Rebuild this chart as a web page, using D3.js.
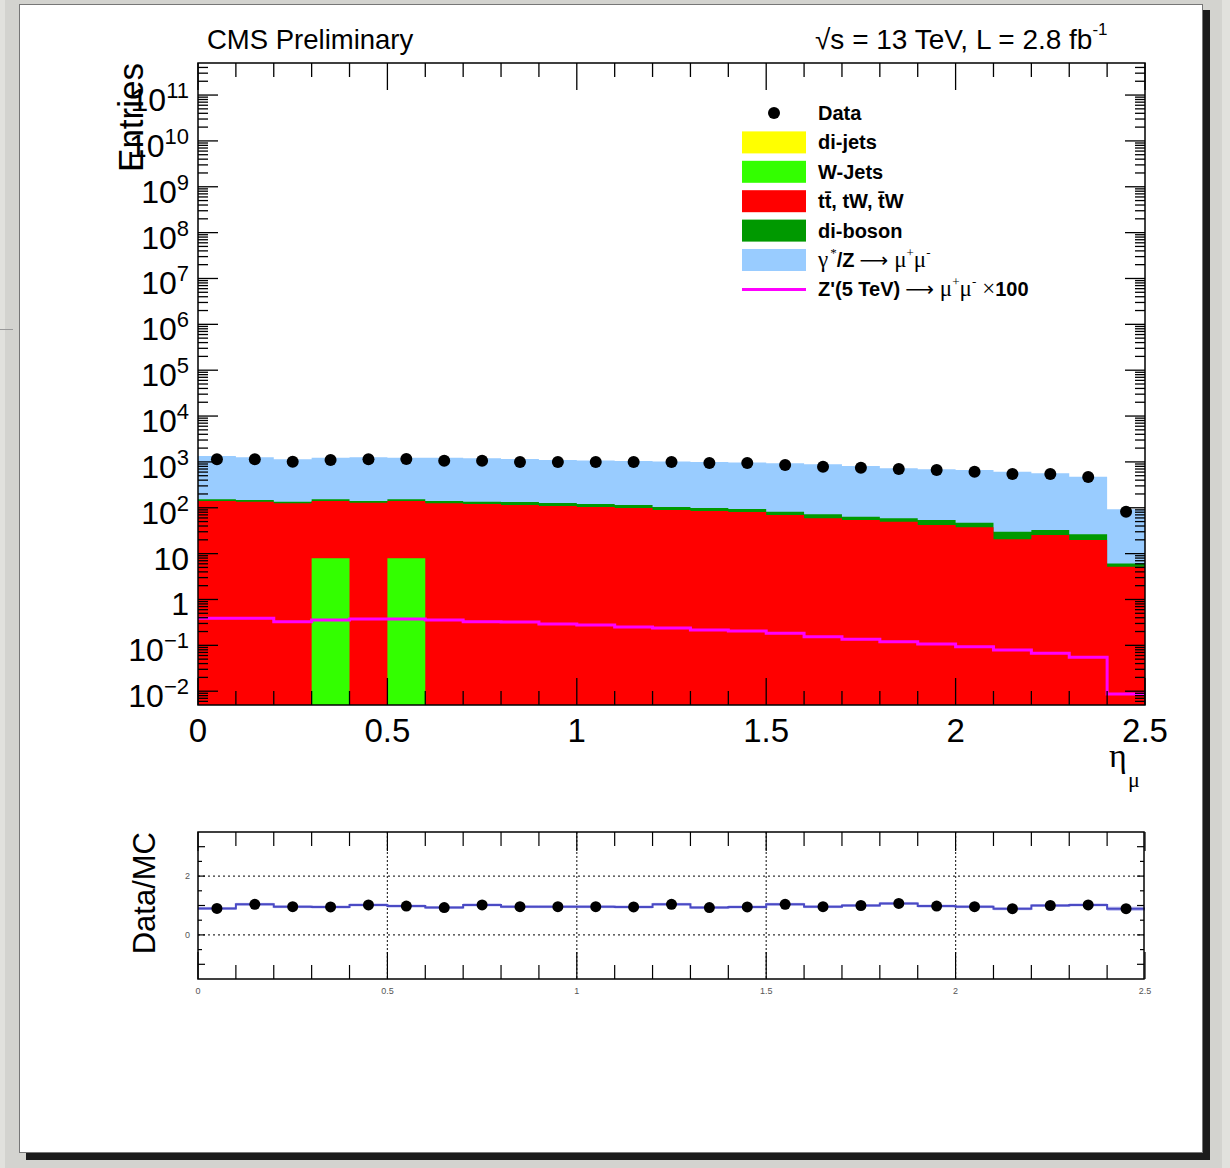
<!DOCTYPE html>
<html>
<head>
<meta charset="utf-8">
<script src="https://cdn.jsdelivr.net/npm/d3@7"></script>
<style>
  body { margin: 0; background: #d3d3cf; }
  svg { display: block; }
  text { font-family: "Liberation Sans", Arial, Helvetica, sans-serif; }
</style>
</head>
<body>
<svg id="canvas" width="1230" height="1168"></svg>
<script>

// ---- data ----
const binLow = [0.0, 0.1, 0.2, 0.3, 0.4, 0.5, 0.6, 0.7, 0.8, 0.9, 1.0, 1.1, 1.2,
                1.3, 1.4, 1.5, 1.6, 1.7, 1.8, 1.9, 2.0, 2.1, 2.2, 2.3, 2.4];
const binWidth = 0.1;

const dataCounts = [1139, 1139, 1010, 1100, 1139, 1157, 1062, 1062, 995, 995, 995, 995, 995,
                    946, 946, 856, 786, 747, 700, 666, 611, 545, 545, 469, 82];

const diJets  = [0, 0, 0, 0, 0, 0, 0, 0, 0, 0, 0, 0, 0, 0, 0, 0, 0, 0, 0, 0, 0, 0, 0, 0, 0];
const wJets   = [0, 0, 0, 7.9, 0, 7.9, 0, 0, 0, 0, 0, 0, 0, 0, 0, 0, 0, 0, 0, 0, 0, 0, 0, 0, 0];
const ttbar   = [140.4, 135.6, 125.1, 132.5, 128.9, 132.5, 125.1, 120.8, 114.8, 109.2, 103.9, 98.8, 89.4,
                 85.0, 80.8, 69.5, 58.9, 54.1, 49.7, 42.1, 37.5, 20.5, 25.5, 19.8, 5.2];
const diBoson = [12.5, 12.0, 10.5, 12.5, 11.5, 12.5, 15.3, 14.8, 18.7, 17.8, 16.9, 16.0, 14.5,
                 13.8, 13.1, 12.5, 13.1, 9.7, 9.2, 12.0, 9.7, 9.6, 7.2, 6.6, 0.9];
const dyMuMu  = [1192, 1112, 1003, 1082, 1120, 1082, 1095, 1062, 1024, 973, 951, 931, 916,
                 896, 876, 850, 814, 750, 666, 636, 619, 581, 531, 450, 87];
const zPrimeX100 = [0.389, 0.389, 0.328, 0.357, 0.375, 0.375, 0.357, 0.328, 0.323, 0.292, 0.278, 0.251, 0.239,
                    0.216, 0.205, 0.183, 0.154, 0.135, 0.120, 0.107, 0.0934, 0.0791, 0.0670, 0.0548, 0.00869];

const ratio    = [0.90, 1.04, 0.96, 0.95, 1.02, 0.98, 0.93, 1.02, 0.96, 0.96, 0.96, 0.95, 1.04,
                  0.93, 0.95, 1.04, 0.96, 1.00, 1.07, 0.98, 0.96, 0.89, 1.00, 1.02, 0.89];
const ratioErr = [0.05, 0.05, 0.05, 0.05, 0.05, 0.05, 0.05, 0.05, 0.05, 0.05, 0.05, 0.05, 0.05,
                  0.05, 0.05, 0.05, 0.05, 0.05, 0.05, 0.05, 0.05, 0.05, 0.05, 0.05, 0.07];

const xTickLabels = ['0', '0.5', '1', '1.5', '2', '2.5'];
const xMajor = [0, 0.5, 1, 1.5, 2, 2.5];
const yDecades = [-2, -1, 0, 1, 2, 3, 4, 5, 6, 7, 8, 9, 10, 11];
const ratioYLabels = [0, 2];

const stackNames  = ['di-jets', 'W-Jets', 'ttbar', 'di-boson', 'DY'];
const stackColors = ['#ffff00', '#33ff00', '#ff0000', '#009900', '#99ccff'];

// legend labels (rich text pieces)
const legendLabels = [
    [{ t: 'Data' }],
    [{ t: 'di-jets' }],
    [{ t: 'W-Jets' }],
    [{ t: 't' }, { t: 't\u0304' }, { t: ', tW, ' }, { t: 't\u0304' }, { t: 'W' }],
    [{ t: 'di-boson' }],
    [{ t: '\u03b3', serif: true }, { t: '*', sup: true, dx: 2 }, { t: '/Z' }, { t: '\u27f6', arrow: true },
     { t: '\u03bc', serif: true, dx: 6 }, { t: '+', sup: true }, { t: '\u03bc', serif: true }, { t: '-', sup: true }],
    [{ t: "Z'(5 TeV)" }, { t: '\u27f6', arrow: true }, { t: '\u03bc', serif: true, dx: 6 }, { t: '+', sup: true },
     { t: '\u03bc', serif: true }, { t: '-', sup: true }, { t: '\u00d7', serif: true, dx: 6 }, { t: '100' }]
];

// ---- canvas ----
const svg = d3.select('#canvas');

svg.append('rect').attr('width', 1230).attr('height', 1168).attr('fill', '#d3d3cf');
svg.append('rect').attr('x', 0).attr('width', 5).attr('height', 1168).attr('fill', '#e1e1dd');
svg.append('rect').attr('x', 1222).attr('width', 8).attr('height', 1168).attr('fill', '#e1e1dd');
svg.append('line').attr('x1', 0).attr('x2', 13).attr('y1', 329.5).attr('y2', 329.5).attr('stroke', '#999');
svg.append('rect').attr('x', 26).attr('y', 10).attr('width', 1184).attr('height', 1150).attr('fill', '#1c1c1c');
svg.append('rect').attr('x', 19.5).attr('y', 4.5).attr('width', 1183).attr('height', 1148)
    .attr('fill', '#fff').attr('stroke', '#777');

// ---- main pad ----
const x = d3.scaleLinear().domain([0, 2.5]).range([198, 1145]);
const y = d3.scaleLog().domain([0.005, 5e11]).range([705, 63]).clamp(true);
const yMin = 0.005;

function stepData(vals) {
    let pts = binLow.map((b, i) => [b, vals[i]]);
    pts.push([binLow[binLow.length - 1] + binWidth, vals[vals.length - 1]]);
    return pts;
}

let layers = [diJets, wJets, ttbar, diBoson, dyMuMu];
let cumul = [];
layers.forEach((l, k) => {
    cumul.push(l.map((v, i) => v + (k > 0 ? cumul[k - 1][i] : 0)));
});

const area = d3.area()
    .curve(d3.curveStepAfter)
    .x(d => x(d[0]))
    .y0(705)
    .y1(d => y(Math.max(d[1], yMin)));

const stackG = svg.append('g').attr('class', 'stack');
for (let k = layers.length - 1; k >= 0; k--) {
    stackG.append('path')
        .datum(stepData(cumul[k]))
        .attr('d', area)
        .attr('fill', stackColors[k]);
}

// Z' signal
const line = d3.line()
    .curve(d3.curveStepAfter)
    .x(d => x(d[0]))
    .y(d => y(Math.max(d[1], yMin)));

svg.append('path')
    .datum(stepData(zPrimeX100))
    .attr('d', line)
    .attr('fill', 'none')
    .attr('stroke', '#ff00ff')
    .attr('stroke-width', 3);

// data points
svg.append('g').selectAll('circle')
    .data(dataCounts)
    .join('circle')
    .attr('cx', (d, i) => x(binLow[i] + binWidth / 2))
    .attr('cy', d => y(d))
    .attr('r', 6)
    .attr('fill', '#000');

// ticks
const ticksG = svg.append('g').attr('stroke', '#000').attr('stroke-width', 1.3);

let yMinor = [];
for (let d = -3; d <= 11; d++) {
    for (let k = 2; k <= 9; k++) {
        let v = k * Math.pow(10, d);
        if (v > 0.005 && v < 5e11) yMinor.push(v);
    }
}
let yMajorVals = yDecades.map(d => Math.pow(10, d));

function yTicks(vals, len) {
    ticksG.append('g').selectAll('line').data(vals).join('line')
        .attr('x1', 198).attr('x2', 198 + len)
        .attr('y1', d => y(d)).attr('y2', d => y(d));
    ticksG.append('g').selectAll('line').data(vals).join('line')
        .attr('x1', 1145).attr('x2', 1145 - len)
        .attr('y1', d => y(d)).attr('y2', d => y(d));
}
yTicks(yMajorVals, 20);
yTicks(yMinor, 10);

let xMinor = binLow.filter(b => b > 0 && Math.abs(b * 2 - Math.round(b * 2)) > 1e-6);

function xTicks(vals, len, y0, y1) {
    ticksG.append('g').selectAll('line').data(vals).join('line')
        .attr('x1', d => x(d)).attr('x2', d => x(d))
        .attr('y1', y0).attr('y2', y0 + len);
    ticksG.append('g').selectAll('line').data(vals).join('line')
        .attr('x1', d => x(d)).attr('x2', d => x(d))
        .attr('y1', y1).attr('y2', y1 - len);
}
xTicks(xMajor, 27, 63, 705);
xTicks(xMinor, 14, 63, 705);

svg.append('rect')
    .attr('x', 198).attr('y', 63).attr('width', 947).attr('height', 642)
    .attr('fill', 'none').attr('stroke', '#000').attr('stroke-width', 1.5);

// y labels
const yLab = svg.append('g').attr('font-size', 32).attr('text-anchor', 'end').attr('fill', '#000');
yDecades.forEach(d => {
    let t = yLab.append('text').attr('x', 189).attr('y', y(Math.pow(10, d)) + 16);
    if (d === 0) t.text('1');
    else if (d === 1) t.text('10');
    else {
        t.append('tspan').text('10');
        t.append('tspan').attr('font-size', 22).attr('dy', -13)
            .text(d < 0 ? '\u2212' + (-d) : String(d));
    }
});

// x labels
svg.append('g').selectAll('text')
    .data(xMajor)
    .join('text')
    .attr('x', d => x(d))
    .attr('y', 742)
    .attr('text-anchor', 'middle')
    .attr('font-size', 33)
    .text((d, i) => xTickLabels[i]);

// axis titles
svg.append('text')
    .attr('transform', 'translate(143,63) rotate(-90)')
    .attr('text-anchor', 'end')
    .attr('font-size', 35)
    .text('Entries');

svg.append('text')
    .attr('x', 1109).attr('y', 767)
    .attr('font-size', 34)
    .style('font-family', '"Liberation Serif", serif')
    .text('\u03b7');
svg.append('text')
    .attr('x', 1128).attr('y', 787)
    .attr('font-size', 22)
    .style('font-family', '"Liberation Serif", serif')
    .text('\u03bc');

// header texts
svg.append('text')
    .attr('x', 207).attr('y', 48.5)
    .attr('font-size', 27.5)
    .text('CMS Preliminary');

let hdr = svg.append('text').attr('x', 815).attr('y', 48.5).attr('font-size', 28);
hdr.append('tspan').text('\u221as = 13 TeV, L = 2.8 fb');
hdr.append('tspan').attr('font-size', 17).attr('dy', -14).text('-1');

// ---- legend ----
const leg = svg.append('g');
const legY0 = 113, legStep = 29.4;

function richText(sel, parts) {
    let shift = 0;
    parts.forEach(p => {
        let target = p.sup ? -10 : 0;
        let ts = sel.append('tspan').attr('dy', target - shift).text(p.t);
        shift = target;
        if (p.dx) ts.attr('dx', p.dx);
        if (p.serif) ts.style('font-family', '"Liberation Serif", serif')
            .attr('font-weight', 'normal').attr('font-size', 23);
        if (p.arrow) ts.style('font-family', '"DejaVu Sans", sans-serif')
            .attr('font-weight', 'normal').attr('font-size', 20).attr('dx', 5);
        if (p.sup) ts.attr('font-size', 13).style('font-family', '"Liberation Serif", serif')
            .attr('font-weight', 'normal');
    });
}

legendLabels.forEach((parts, i) => {
    let cy = legY0 + i * legStep;
    if (i === 0) {
        leg.append('circle').attr('cx', 774).attr('cy', cy).attr('r', 6).attr('fill', '#000');
    } else if (i === legendLabels.length - 1) {
        leg.append('line').attr('x1', 742).attr('x2', 806).attr('y1', cy).attr('y2', cy)
            .attr('stroke', '#ff00ff').attr('stroke-width', 3);
    } else {
        leg.append('rect').attr('x', 742).attr('y', cy - 11).attr('width', 64).attr('height', 22)
            .attr('fill', stackColors[i - 1]);
    }
    let t = leg.append('text')
        .attr('x', 818).attr('y', cy + 7)
        .attr('font-size', 20)
        .attr('font-weight', 'bold');
    richText(t, parts);
});

// ---- ratio pad ----
const yr = d3.scaleLinear().domain([-1.5, 3.5]).range([979, 832]);

const rg = svg.append('g');

// grid
rg.append('g').selectAll('line').data([0, 2]).join('line')
    .attr('x1', 198).attr('x2', 1144)
    .attr('y1', d => yr(d)).attr('y2', d => yr(d))
    .attr('stroke', '#333').attr('stroke-width', 1.2).attr('stroke-dasharray', '2,3');
rg.append('g').selectAll('line').data([0.5, 1, 1.5, 2]).join('line')
    .attr('x1', d => x(d)).attr('x2', d => x(d))
    .attr('y1', 832).attr('y2', 979)
    .attr('stroke', '#333').attr('stroke-width', 1.2).attr('stroke-dasharray', '2,2');

// band + step
rg.append('g').selectAll('rect').data(ratio).join('rect')
    .attr('x', (d, i) => x(binLow[i]))
    .attr('width', x(binWidth) - x(0))
    .attr('y', (d, i) => yr(d + ratioErr[i]))
    .attr('height', (d, i) => yr(d - ratioErr[i]) - yr(d + ratioErr[i]))
    .attr('fill', '#bcbcf0');

const rline = d3.line()
    .curve(d3.curveStepAfter)
    .x(d => x(d[0]))
    .y(d => yr(d[1]));

rg.append('path')
    .datum(stepData(ratio))
    .attr('d', rline)
    .attr('fill', 'none')
    .attr('stroke', '#4a4ac4')
    .attr('stroke-width', 2);

rg.append('g').selectAll('circle').data(ratio).join('circle')
    .attr('cx', (d, i) => x(binLow[i] + binWidth / 2))
    .attr('cy', d => yr(d))
    .attr('r', 5.5)
    .attr('fill', '#000');

// ratio ticks
const rt = rg.append('g').attr('stroke', '#000').attr('stroke-width', 1.2);
rt.selectAll('.tb').data(xMajor.concat(xMinor)).join('line')
    .attr('x1', d => x(d)).attr('x2', d => x(d))
    .attr('y1', 979).attr('y2', d => 979 - (xMajor.includes(d) ? 27 : 14));
rt.selectAll('.tt').data(xMajor.concat(xMinor)).join('line')
    .attr('class', 'tt')
    .attr('x1', d => x(d)).attr('x2', d => x(d))
    .attr('y1', 832).attr('y2', d => 832 + (xMajor.includes(d) ? 19 : 14));

let rY = [-1, -0.5, 0, 0.5, 1, 1.5, 2, 2.5, 3];
rt.append('g').selectAll('line').data(rY).join('line')
    .attr('x1', 198).attr('x2', d => 198 + (Number.isInteger(d) ? 7 : 4))
    .attr('y1', d => yr(d)).attr('y2', d => yr(d));
rt.append('g').selectAll('line').data(rY).join('line')
    .attr('x1', 1144).attr('x2', d => 1144 - (Number.isInteger(d) ? 7 : 4))
    .attr('y1', d => yr(d)).attr('y2', d => yr(d));

rg.append('rect')
    .attr('x', 198).attr('y', 832).attr('width', 946).attr('height', 147)
    .attr('fill', 'none').attr('stroke', '#000').attr('stroke-width', 1.5);

// ratio labels
rg.append('g').selectAll('text').data(xMajor).join('text')
    .attr('x', d => x(d)).attr('y', 994)
    .attr('text-anchor', 'middle')
    .attr('font-size', 9)
    .attr('fill', '#555')
    .text((d, i) => xTickLabels[i]);

rg.append('g').selectAll('text').data(ratioYLabels).join('text')
    .attr('x', 190).attr('y', d => yr(d) + 3)
    .attr('text-anchor', 'end')
    .attr('font-size', 9)
    .attr('fill', '#555')
    .text(d => d);

svg.append('text')
    .attr('transform', 'translate(155,832) rotate(-90)')
    .attr('text-anchor', 'end')
    .attr('font-size', 31)
    .text('Data/MC');

</script>
</body>
</html>
